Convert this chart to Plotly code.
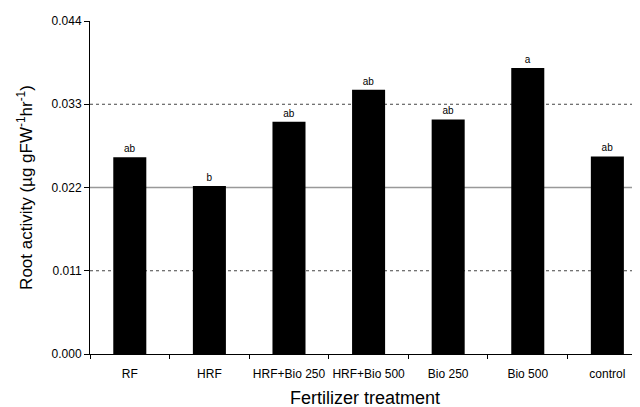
import plotly.graph_objects as go

categories = ["RF", "HRF", "HRF+Bio 250", "HRF+Bio 500", "Bio 250", "Bio 500", "control"]
root_activity = [0.0260, 0.0222, 0.0307, 0.0349, 0.0310, 0.0378, 0.0261]
letters = ["ab", "b", "ab", "ab", "ab", "a", "ab"]
y_ticks = [0.000, 0.011, 0.022, 0.033, 0.044]
y_tick_labels = ["0.000", "0.011", "0.022", "0.033", "0.044"]
dotted_grid = [0.011, 0.033]
solid_grid = [0.022]

FONT = "Arial, Liberation Sans, sans-serif"

fig = go.Figure()
fig.add_trace(go.Bar(
    x=categories, y=root_activity, text=letters,
    textposition="outside", cliponaxis=False,
    textfont=dict(family=FONT, size=10, color="black"),
    marker=dict(color="black", line=dict(width=0)),
    width=0.415,
))

for g in dotted_grid:
    fig.add_shape(type="line", xref="paper", x0=0, x1=1, yref="y", y0=g, y1=g,
                  line=dict(color="#444444", width=1, dash="dot"), layer="below")
for g in solid_grid:
    fig.add_shape(type="line", xref="paper", x0=0, x1=1, yref="y", y0=g, y1=g,
                  line=dict(color="#999999", width=1.3), layer="below")

fig.add_annotation(text="Fertilizer treatment", xref="paper", yref="paper",
                   x=0.5, y=0, yshift=-44, xanchor="center", yanchor="middle",
                   showarrow=False, font=dict(size=18, color="black"))

# page body has an 8px margin, so the figure is 8px smaller on each axis
fig.update_layout(
    width=632, height=399,
    margin=dict(l=82, r=0, t=13, b=53, autoexpand=False),
    plot_bgcolor="white", paper_bgcolor="white",
    showlegend=False,
    font=dict(family=FONT, color="black"),
    xaxis=dict(
        range=[-0.5, 6.41], type="category",
        showline=True, linecolor="black", linewidth=1,
        ticks="outside", tickson="boundaries", ticklen=4, tickcolor="black",
        tickfont=dict(size=12), tickangle=0, showgrid=False, automargin=False,
        ticklabelstandoff=9,
    ),
    yaxis=dict(
        range=[0, 0.044], tickvals=y_ticks, ticktext=y_tick_labels,
        showline=True, linecolor="black", linewidth=1,
        ticks="outside", ticklen=5, tickcolor="black",
        tickfont=dict(size=12), showgrid=False, zeroline=False, automargin=False,
        title=dict(text="Root activity (µg gFW<sup>-1</sup>hr<sup>-1</sup>)",
                   font=dict(size=17), standoff=14),
    ),
)

fig.write_html("out.html")
